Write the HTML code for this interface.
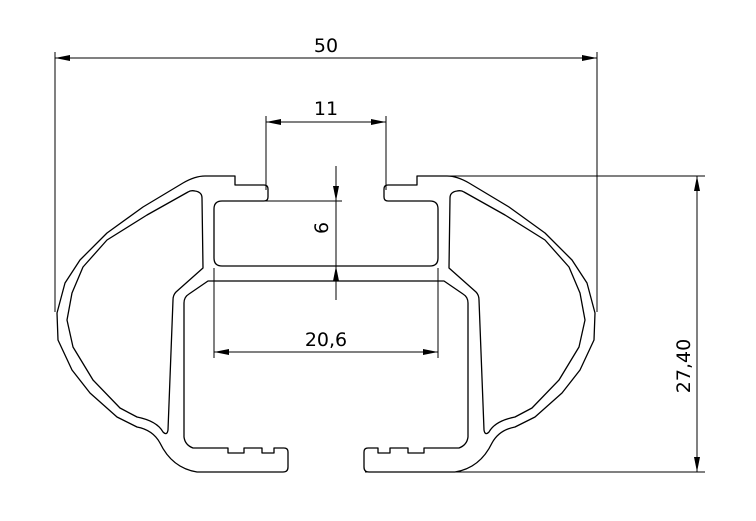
<!DOCTYPE html>
<html><head><style>body{margin:0;background:#fff}svg{display:block}</style></head><body>
<svg width="756" height="521" viewBox="0 0 756 521" xmlns="http://www.w3.org/2000/svg">
<g fill="none" stroke="#000" stroke-width="1.3" stroke-linejoin="round">
<g id="half">
<path d="M326,266 L222,266 Q214,266 214,258 L214,209 Q214,201 222,201 L264,201 Q268,201 268,197 L268,189 Q268,185 264,185 L235,185 L235,176 L205,176 Q195,176 183,183 L143,207 L107,233 L80,260 L65,283 L57,313 L58,340 L72,370 L90,393 L117,417 L137,427 Q153,430 160,443 Q172,468 197,472 L283,472 Q288,472 288,467 L288,452 Q288,448 284,448 L274,448 L274,453 L262,453 L262,448 L244,448 L244,453 L228,453 L228,448 L213,448 L213,448 L193,448 Q185,445 184,437 L184,303 Q184,297 189,294 L208,281 L326,281"/>
<path d="M195,191 Q202,192 202,198 L203,268 L176,292 Q173,295 173,300 L168,430 Q167,436 163,432 Q157,421 137,417 L120,408 L93,380 L73,347 L67,320 L72,293 L83,267 L107,240 L147,215 L188,192 Q191,190 195,191 Z"/>
</g>
<use href="#half" transform="translate(652,0) scale(-1,1)"/>
</g>
<g stroke="#000" stroke-width="1" fill="none">
<line x1="55" y1="52" x2="55" y2="312"/><line x1="597" y1="52" x2="597" y2="312"/>
<line x1="55" y1="58" x2="597" y2="58"/>
<line x1="266" y1="116" x2="266" y2="190"/><line x1="386" y1="116" x2="386" y2="190"/>
<line x1="266" y1="122" x2="386" y2="122"/>
<line x1="336" y1="166" x2="336" y2="300"/>
<line x1="264" y1="201" x2="342" y2="201"/>
<line x1="214" y1="268" x2="214" y2="358"/><line x1="438" y1="268" x2="438" y2="358"/>
<line x1="214" y1="352" x2="438" y2="352"/>
<line x1="445" y1="176" x2="705" y2="176"/><line x1="365" y1="472" x2="705" y2="472"/>
<line x1="697" y1="176" x2="697" y2="472"/>
</g>
<g fill="#000">
<path d="M55,58 l15,-3 l0,6z"/><path d="M597,58 l-15,-3 l0,6z"/>
<path d="M266,122 l15,-3 l0,6z"/><path d="M386,122 l-15,-3 l0,6z"/>
<path d="M336,201 l-3,-15 l6,0z"/><path d="M336,266 l-3,15 l6,0z"/>
<path d="M214,352 l15,-3 l0,6z"/><path d="M438,352 l-15,-3 l0,6z"/>
<path d="M697,176 l-3,15 l6,0z"/><path d="M697,472 l-3,-15 l6,0z"/>
</g>
<g font-family="'DejaVu Sans','Liberation Sans',sans-serif" font-size="19" fill="#000" text-anchor="middle">
<text x="326" y="52">50</text>
<text x="326" y="115">11</text>
<text x="326" y="346">20,6</text>
<text transform="translate(328,228) rotate(-90)" y="0">6</text>
<text transform="translate(690,366) rotate(-90)">27,40</text>
</g>
</svg>
</body></html>
